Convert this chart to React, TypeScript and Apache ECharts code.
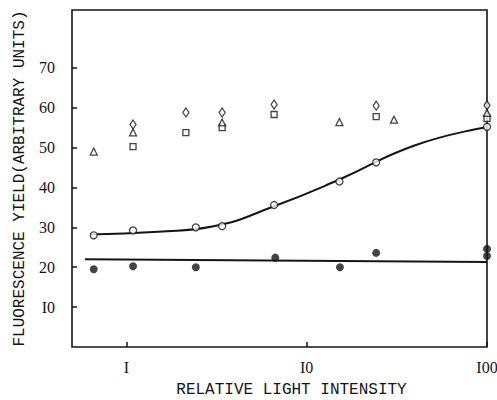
import React, { useEffect, useRef } from "react";
import * as echarts from "echarts";

// Data
const openCircles: [number, number][] = [
  [0.66, 28], [1.09, 29.25], [2.43, 30], [3.4, 30.3], [6.6, 35.6], [15.2, 41.5], [24.3, 46.3], [100, 55.2],
];
const filledCircles: [number, number][] = [
  [0.66, 19.5], [1.09, 20.25], [2.43, 20], [6.7, 22.4], [15.3, 20], [24.3, 23.6], [100, 24.6], [100, 22.8],
];
const squares: [number, number][] = [
  [1.09, 50.25], [2.14, 53.75], [3.4, 55], [6.6, 58.3], [24.3, 57.75], [100, 57.3],
];
const diamonds: [number, number][] = [
  [1.09, 55.8], [2.14, 58.8], [3.4, 58.8], [6.6, 60.8], [24.3, 60.5], [100, 60.6],
];
const triangles: [number, number][] = [
  [0.66, 49], [1.09, 53.8], [3.4, 56.3], [15.2, 56.4], [30.5, 57], [100, 58.7],
];
const fittedCurve: [number, number][] = [
  [0.63, 28.2], [1.5, 28.9], [3, 30.2], [6.6, 35.3],
  [15.2, 42], [40, 50.6], [100, 55.1],
];
const flatLine: [number, number][] = [
  [0.59, 22], [100, 21.3],
];
const yTicks = [10, 20, 30, 40, 50, 60, 70];
const yTickLabels = ["I0", "20", "30", "40", "50", "60", "70"];
const xTicks = [1, 10, 100];
const xTickLabels = ["I", "I0", "I00"];

const INK = "#151515";

export default function App() {
  const ref = useRef<HTMLDivElement>(null);
  useEffect(() => {
    if (!ref.current) return;
    const chart = echarts.init(ref.current, undefined, { renderer: "svg" });
    const markerStyle = { color: "#fff", borderColor: INK, borderWidth: 1.3 };
    chart.setOption({
      animation: false,
      backgroundColor: "#fff",
      grid: {
        left: 72, right: 10, top: 10, bottom: 53,
        outerBoundsMode: "none",
        show: true, borderColor: INK, borderWidth: 1.6, backgroundColor: "transparent",
      },
      xAxis: {
        type: "log",
        logBase: 10,
        min: 0.5,
        max: 100,
        name: "RELATIVE LIGHT INTENSITY",
        nameLocation: "middle",
        nameGap: 35,
        nameMoveOverlap: false,
        nameTextStyle: {
          fontFamily: "Liberation Mono", fontSize: 16, lineHeight: 16, color: INK, padding: [0, 0, 0, 24],
        },
        axisLine: { show: false },
        axisTick: { show: true, inside: true, length: 5, customValues: xTicks, lineStyle: { color: INK, width: 1.5 } },
        axisLabel: {
          customValues: xTicks,
          formatter: (v: number) => {
            const i = xTicks.findIndex((t) => Math.abs(t - v) < 1e-6 * t);
            return i >= 0 ? xTickLabels[i] : "";
          },
          fontFamily: "Liberation Serif", fontSize: 16, color: INK, margin: 12,
        },
        splitLine: { show: false },
      },
      yAxis: {
        type: "value",
        min: 0,
        max: 84.5,
        name: "FLUORESCENCE YIELD(ARBITRARY UNITS)",
        nameLocation: "middle",
        nameRotate: 90,
        nameGap: 44,
        nameMoveOverlap: false,
        nameTextStyle: { fontFamily: "Liberation Mono", fontSize: 16, color: INK },
        axisLine: { show: false },
        axisTick: { show: true, inside: true, length: 5, customValues: yTicks, lineStyle: { color: INK, width: 1.5 } },
        axisLabel: {
          customValues: yTicks,
          formatter: (v: number) => {
            const i = yTicks.indexOf(Math.round(v));
            return i >= 0 ? yTickLabels[i] : "";
          },
          fontFamily: "Liberation Serif", fontSize: 16, color: INK, margin: 17,
        },
        splitLine: { show: false },
      },
      series: [
        {
          type: "line", data: fittedCurve, smooth: 0.5, showSymbol: false,
          lineStyle: { color: INK, width: 2 }, z: 2,
        },
        {
          type: "line", data: flatLine, showSymbol: false,
          lineStyle: { color: INK, width: 2 }, z: 2,
        },
        {
          type: "scatter", data: openCircles, symbol: "circle", symbolSize: 7,
          itemStyle: markerStyle, z: 3,
        },
        {
          type: "scatter", data: filledCircles, symbol: "circle", symbolSize: 8,
          itemStyle: { color: INK }, z: 3,
        },
        {
          type: "scatter", data: squares, symbol: "rect", symbolSize: 6,
          itemStyle: markerStyle, z: 3,
        },
        {
          type: "scatter", data: diamonds, symbol: "diamond", symbolSize: [6, 9],
          itemStyle: markerStyle, z: 3,
        },
        {
          type: "scatter", data: triangles, symbol: "triangle", symbolSize: 7,
          itemStyle: markerStyle, z: 3,
        },
      ],
    });
    return () => chart.dispose();
  }, []);
  return <div ref={ref} style={{ width: 497, height: 400, position: "absolute", left: 0, top: 0 }} />;
}
